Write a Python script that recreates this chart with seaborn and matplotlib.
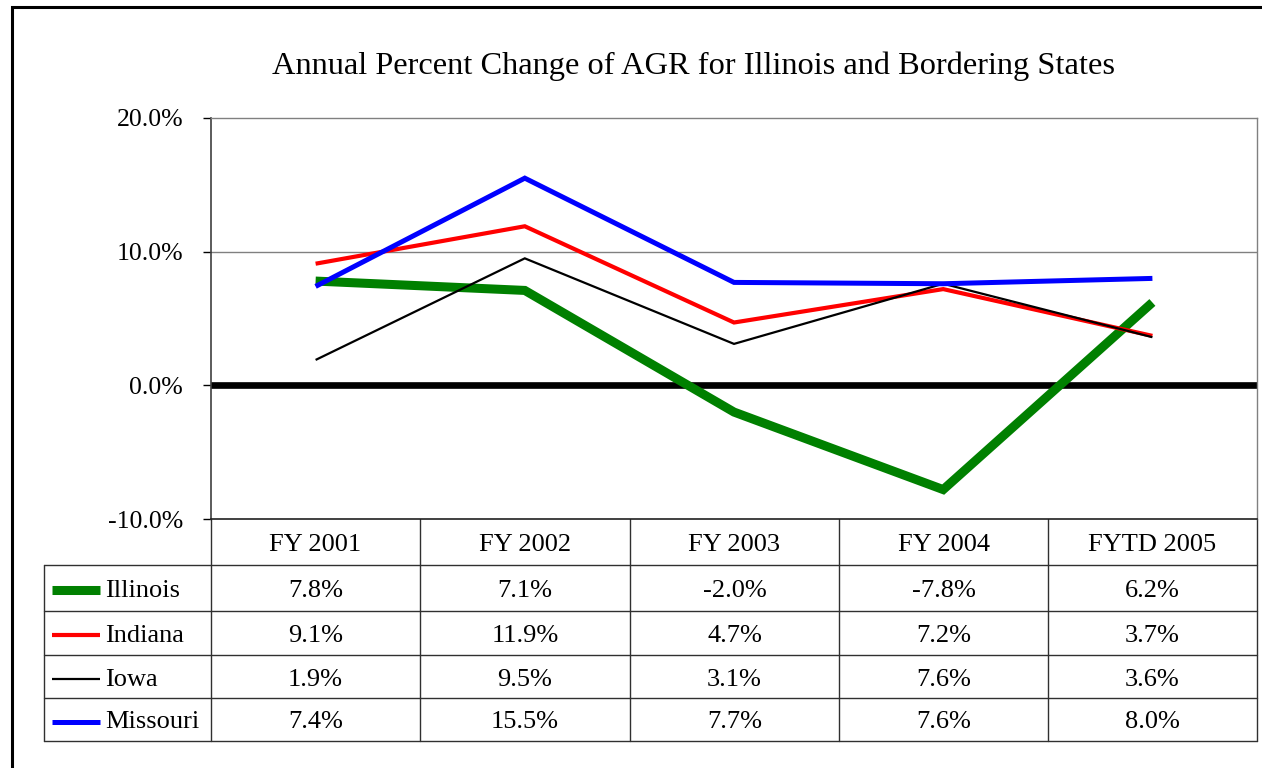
"""Annual percent change of AGR, Illinois and bordering states."""

import matplotlib

matplotlib.use("Agg")
import matplotlib.pyplot as plt
import pandas as pd
import seaborn as sns

years = ["FY 2001", "FY 2002", "FY 2003", "FY 2004", "FYTD 2005"]
states = ["Illinois", "Indiana", "Iowa", "Missouri"]
illinois = [7.8, 7.1, -2.0, -7.8, 6.2]
indiana = [9.1, 11.9, 4.7, 7.2, 3.7]
iowa = [1.9, 9.5, 3.1, 7.6, 3.6]
missouri = [7.4, 15.5, 7.7, 7.6, 8.0]
y_ticks = [-10, 0, 10, 20]

colors = {"Illinois": "#008000", "Indiana": "#ff0000", "Iowa": "#000000", "Missouri": "#0000ff"}
widths = {"Illinois": 6.5, "Indiana": 3.0, "Iowa": 1.6, "Missouri": 3.6}

W, H = 1262, 768

sns.set_style("white")
plt.rcParams["font.family"] = ["Liberation Serif", "DejaVu Serif"]
plt.rcParams["text.color"] = "black"
plt.rcParams["ytick.labelcolor"] = "black"

df = pd.DataFrame({
    "year": years * 4,
    "state": [s for s in states for _ in years],
    "value": illinois + indiana + iowa + missouri,
})


def box(x0, y0, x1, y1):
    return [x0 / W, 1 - y1 / H, (x1 - x0) / W, (y1 - y0) / H]


fig = plt.figure(figsize=(W / 100, H / 100), dpi=100)

# overlay in pixel coords for the frame and the data table
over = fig.add_axes([0, 0, 1, 1])
over.set_xlim(0, W)
over.set_ylim(H, 0)
over.axis("off")

ax = fig.add_axes(box(211, 118, 1257, 519))
for state in states:
    sns.lineplot(data=df[df["state"] == state], x="year", y="value", color=colors[state],
                 linewidth=widths[state], sort=False, ax=ax, legend=False,
                 solid_capstyle="butt", solid_joinstyle="miter")
ax.axhline(0, color="black", linewidth=4.8, zorder=1)
ax.axhline(10, color="#808080", linewidth=1, zorder=0)
ax.set_xlim(-0.5, len(years) - 0.5)
ax.set_ylim(-10, 20)
ax.set_yticks(y_ticks)
ax.set_yticklabels([f"{v:.1f}%" for v in y_ticks], fontsize=18.5, color="black")
ax.tick_params(axis="y", direction="out", length=6, width=1, color="black", left=True, pad=14)
ax.tick_params(axis="x", bottom=False, labelbottom=False)
ax.set_xlabel("")
ax.set_ylabel("")
for side in ["top", "right"]:
    ax.spines[side].set_color("#808080")
    ax.spines[side].set_linewidth(1)
ax.spines["left"].set_color("#404040")
ax.spines["bottom"].set_color("#202020")
ax.spines["left"].set_linewidth(1.2)
ax.spines["bottom"].set_linewidth(1.2)

fig.text(693 / W, 1 - 66 / H, "Annual Percent Change of AGR for Illinois and Bordering States",
         ha="center", va="center", fontsize=23.3, color="black")

# outer frame (left and top visible)
over.plot([12, 12, W + 5], [H + 5, 7, 7], color="black", linewidth=2.2, solid_joinstyle="miter")

# table
col_edges = [211, 420, 630, 839, 1048, 1257]
row_edges = [519, 565, 611, 655, 698, 741]
line_kw = dict(color="#303030", linewidth=1)
for y in row_edges[1:]:
    over.plot([44, 1257], [y, y], **line_kw)
over.plot([44, 44], [565, 741], **line_kw)
for x in col_edges:
    over.plot([x, x], [519, 741], **line_kw)

fs = 19
dy = 3
values = [illinois, indiana, iowa, missouri]
for i, year in enumerate(years):
    cx = (col_edges[i] + col_edges[i + 1]) / 2
    over.text(cx, (row_edges[0] + row_edges[1]) / 2 + dy, year, ha="center", va="center", fontsize=fs)
    for r, vals in enumerate(values):
        cy = (row_edges[r + 1] + row_edges[r + 2]) / 2
        over.text(cx, cy + dy, f"{vals[i]:.1f}%", ha="center", va="center", fontsize=fs)

for r, state in enumerate(states):
    cy = (row_edges[r + 1] + row_edges[r + 2]) / 2
    over.plot([52, 100], [cy + 2, cy + 2], color=colors[state], linewidth=widths[state],
              solid_capstyle="butt")
    over.text(105, cy + dy, state, ha="left", va="center", fontsize=fs)

fig.savefig("out.png", dpi=100)
plt.close(fig)
